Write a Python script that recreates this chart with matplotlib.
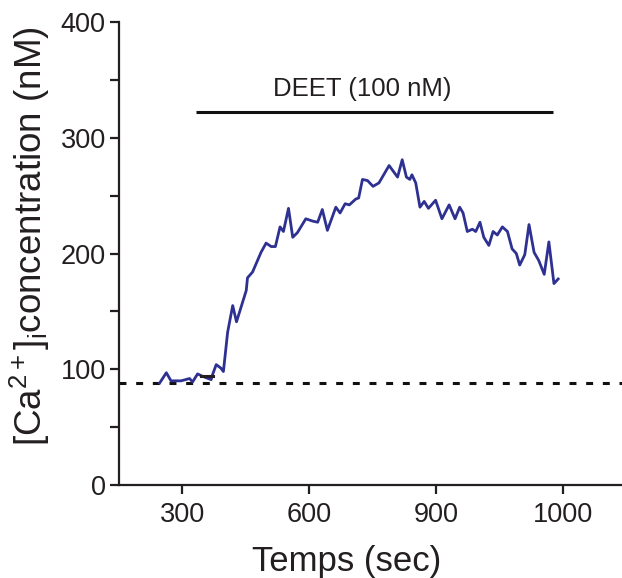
import matplotlib
matplotlib.use("Agg")
import matplotlib.pyplot as plt
import numpy as np

plt.rcParams['font.family'] = ['Liberation Sans', 'DejaVu Sans']
plt.rcParams['mathtext.fontset'] = 'custom'
plt.rcParams['mathtext.rm'] = 'Liberation Sans'
plt.rcParams['mathtext.it'] = 'Liberation Sans:italic'

# ---- data ----
time_sec = [246, 262, 273, 297, 317, 324, 336, 347, 368, 371, 380, 391, 397,
            407, 419, 428, 451, 454, 466, 486, 498, 510, 520, 531, 539, 551,
            561, 572, 592, 608, 620, 631, 643, 663, 673, 685, 695, 710, 717,
            726, 738, 751, 765, 789, 809, 820, 830, 838, 843, 852, 862, 872,
            882, 899, 914, 931, 945, 956, 964, 974, 986, 994, 1004, 1013, 1025,
            1035, 1045, 1057, 1069, 1080, 1090, 1098, 1110, 1120, 1132, 1143,
            1156, 1167, 1179, 1189]
ca_nM = [88, 97, 90, 90, 92, 89, 96, 94, 91, 95, 104, 101, 98,
         132, 155, 141, 168, 179, 184, 201, 209, 206, 206, 223, 219, 239,
         214, 218, 230, 228, 227, 238, 220, 240, 235, 243, 242, 247, 248,
         264, 263, 258, 261, 276, 266, 281, 266, 264, 268, 261, 240, 245,
         239, 246, 230, 242, 230, 240, 235, 219, 221, 219, 227, 214, 207,
         219, 216, 223, 219, 204, 200, 190, 199, 225, 201, 194,
         182, 210, 174, 178]

baseline_nM = 88
deet_start, deet_end, deet_level = 331, 1176, 322
deet_label = "DEET (100 nM)"
marker_x = [345, 372]
marker_y = [94, 94]

xticks = [300, 600, 900, 1200]
xtick_labels = ["300", "600", "900", "1000"]
yticks = [0, 100, 200, 300, 400]
yminor = [50, 150, 250, 350]

# ---- figure ----
W, H = 622, 578
fig = plt.figure(figsize=(W / 100, H / 100), dpi=100)
ax = fig.add_axes([119 / W, (H - 485) / H, (W - 119) / W, (485 - 22) / H])

txt = '#231F20'
ax.plot(time_sec, ca_nM, color='#2E3192', lw=2.0, solid_joinstyle='round',
        zorder=3)
ax.plot(marker_x, marker_y, color='#231F20', lw=2.2, zorder=4)

dl, = ax.plot([150, 1340], [baseline_nM, baseline_nM], color='#111111',
              lw=2.2, zorder=2)
dl.set_dashes((5 / 2.2, 7 / 2.2))

ax.plot([deet_start, deet_end], [deet_level, deet_level], color='#111111',
        lw=2.2, solid_capstyle='butt')
ax.text((deet_start + deet_end) / 2 - 28, deet_level + 10, deet_label,
        ha='center', va='bottom', fontsize=18.5, color=txt)

ax.set_xlim(150, 1340)
ax.set_ylim(0, 400)
ax.set_xticks(xticks)
ax.set_xticklabels(xtick_labels)
ax.set_yticks(yticks)
ax.set_yticks(yminor, minor=True)

for s in ['top', 'right']:
    ax.spines[s].set_visible(False)
for s in ['left', 'bottom']:
    ax.spines[s].set_linewidth(1.6)
    ax.spines[s].set_color('#231F20')

ax.tick_params(axis='both', which='both', direction='out', length=6.5,
               width=1.6, color='#231F20', labelsize=19.5, labelcolor=txt)
ax.tick_params(axis='x', pad=6)
ax.tick_params(axis='y', pad=3)

fig.text(347 / W, 1 - 562 / H, "Temps (sec)", ha='center', va='center',
         fontsize=25, color=txt)
fig.text(30 / W, 1 - 236 / H,
         r"[Ca$^{2+}$]$_{\mathrm{i}}$concentration (nM)",
         rotation=90, ha='center', va='center', fontsize=26.5, color=txt)

fig.savefig("out.png", dpi=100)
